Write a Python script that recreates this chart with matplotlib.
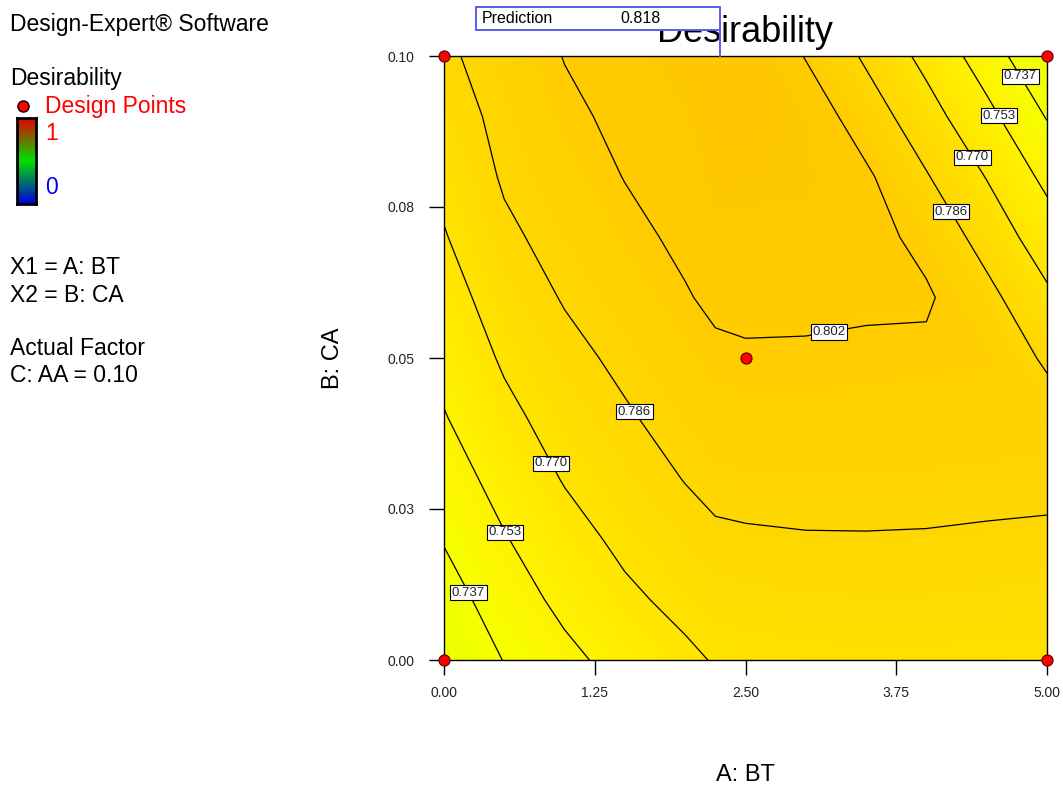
import numpy as np
import matplotlib
matplotlib.use("Agg")
import matplotlib.pyplot as plt
from matplotlib.colors import LinearSegmentedColormap
from matplotlib.patches import Rectangle
from matplotlib.lines import Line2D

plt.rcParams['font.family'] = ['Liberation Sans', 'DejaVu Sans']

# ---- factor grid: A: BT (columns) and B: CA (rows) ----
bt_values = [0.0, 0.5, 1.0, 1.5, 2.0, 2.25, 2.5, 3.0, 3.5, 4.0, 4.5, 5.0]
ca_values = [0.00, 0.01, 0.02, 0.03, 0.04, 0.05, 0.06, 0.07, 0.08, 0.09, 0.10]

# desirability, one row per CA value (bottom to top), one column per BT value
desirability = [
    [0.7230, 0.7375, 0.7490, 0.7587, 0.7670, 0.7710, 0.7720, 0.7732, 0.7738, 0.7739, 0.7732, 0.7728],
    [0.7300, 0.7450, 0.7570, 0.7670, 0.7742, 0.7776, 0.7784, 0.7794, 0.7798, 0.7797, 0.7790, 0.7786],
    [0.7380, 0.7520, 0.7640, 0.7735, 0.7806, 0.7838, 0.7845, 0.7852, 0.7853, 0.7851, 0.7845, 0.7840],
    [0.7450, 0.7590, 0.7710, 0.7790, 0.7865, 0.7896, 0.7902, 0.7906, 0.7905, 0.7902, 0.7895, 0.7890],
    [0.7520, 0.7660, 0.7765, 0.7844, 0.7913, 0.7951, 0.7955, 0.7957, 0.7954, 0.7949, 0.7943, 0.7937],
    [0.7580, 0.7720, 0.7820, 0.7890, 0.7962, 0.7995, 0.8005, 0.8004, 0.7999, 0.7990, 0.7986, 0.7834],
    [0.7630, 0.7780, 0.7870, 0.7937, 0.8010, 0.8045, 0.8051, 0.8048, 0.8038, 0.8040, 0.7905, 0.7729],
    [0.7690, 0.7833, 0.7910, 0.7984, 0.8047, 0.8093, 0.8093, 0.8088, 0.8077, 0.7975, 0.7800, 0.7613],
    [0.7740, 0.7876, 0.7950, 0.8024, 0.8076, 0.8133, 0.8132, 0.8124, 0.8045, 0.7871, 0.7694, 0.7490],
    [0.7790, 0.7900, 0.7990, 0.8053, 0.8108, 0.8163, 0.8166, 0.8113, 0.7941, 0.7765, 0.7574, 0.7361],
    [0.7835, 0.7925, 0.8025, 0.8085, 0.8145, 0.8180, 0.8180, 0.8012, 0.7837, 0.7655, 0.7449, 0.7227],
]

contour_levels = [0.737, 0.753, 0.770, 0.786, 0.802]
label_spots = [(4.76, 0.0964), (4.64, 0.0906), (4.43, 0.0838), (4.25, 0.0748),
               (3.18, 0.0560), (1.60, 0.0414), (0.88, 0.0325), (0.51, 0.0212),
               (0.22, 0.0113)]

design_bt = [0.0, 0.0, 5.0, 5.0, 2.5]
design_ca = [0.0, 0.10, 0.0, 0.10, 0.05]

x_ticks = [0.0, 1.25, 2.5, 3.75, 5.0]
x_tick_labels = ["0.00", "1.25", "2.50", "3.75", "5.00"]
y_ticks = [0.0, 0.025, 0.05, 0.075, 0.10]
y_tick_labels = ["0.00", "0.03", "0.05", "0.08", "0.10"]

prediction_value = 0.818
prediction_bt = 2.29
prediction_ca = 0.10

# ---- figure ----
W, H = 1063, 786
fig = plt.figure(figsize=(W / 100, H / 100), dpi=100)
ax = fig.add_axes([444 / W, 1 - 660 / H, 603 / W, 604 / H])

fill_cmap = LinearSegmentedColormap.from_list(
    "desire_fill",
    [(0.00, "#e8ff00"), (0.17, "#f6ff00"), (0.33, "#fff200"), (0.50, "#ffe400"),
     (0.66, "#ffd700"), (0.82, "#ffcc00"), (1.00, "#fec500")])

X, Y = np.meshgrid(bt_values, ca_values)
Z = np.array(desirability)
ax.contourf(X, Y, Z, levels=np.linspace(0.715, 0.825, 120), cmap=fill_cmap,
            vmin=0.72, vmax=0.82, antialiased=False)
cs = ax.contour(X, Y, Z, levels=contour_levels, colors="black", linewidths=0.9)
labels = ax.clabel(cs, contour_levels, manual=label_spots, inline=False,
                   fmt="%.3f", fontsize=9.5, colors="#222222")
for t in labels:
    t.set_rotation(0)
    t.set_bbox(dict(boxstyle="square,pad=0.12", fc="white", ec="black", lw=0.8))
    t.set_zorder(6)

ax.scatter(design_bt, design_ca, s=64, c="red", edgecolors="#550000",
           linewidths=0.8, clip_on=False, zorder=12)

ax.set_xlim(0, 5)
ax.set_ylim(0, 0.10)
ax.set_xticks(x_ticks)
ax.set_xticklabels(x_tick_labels)
ax.set_yticks(y_ticks)
ax.set_yticklabels(y_tick_labels)
ax.tick_params(direction="out", length=11, width=1, labelsize=10,
               labelcolor="#222222")
ax.tick_params(axis="x", pad=8)
ax.tick_params(axis="y", pad=10)
for s in ax.spines.values():
    s.set_linewidth(1)
    s.set_color("black")

ax.set_xlabel("A: BT", fontsize=17)
ax.xaxis.set_label_coords(0.5, (660 - 775) / 604)
ax.xaxis.label.set_va("center")
ax.set_ylabel("B: CA", fontsize=17)
ax.yaxis.set_label_coords((333 - 444) / 603, 0.5)
ax.yaxis.label.set_va("center")

ax.set_title("Desirability", fontsize=26, y=(660 - 33) / 604, va="center", pad=0)

# prediction flag
px_per_x = 603 / 5.0
px_per_y = 604 / 0.10
box_left = prediction_bt - (720 - 476) / px_per_x
box_bottom = prediction_ca + (56 - 30) / px_per_y
box_h = (30 - 7) / px_per_y
ax.add_patch(Rectangle((box_left, box_bottom), prediction_bt - box_left, box_h,
                       fc="white", ec="#5b5bf0", lw=1.4, clip_on=False, zorder=10))
ax.plot([prediction_bt, prediction_bt], [prediction_ca, box_bottom],
        color="#5b5bf0", lw=1.4, clip_on=False, zorder=10)
ax.text(box_left + 6 / px_per_x, box_bottom + box_h / 2, "Prediction",
        fontsize=11.5, va="center", ha="left", zorder=11)
ax.text(box_left + 144 / px_per_x, box_bottom + box_h / 2, f"{prediction_value:.3f}",
        fontsize=11.5, va="center", ha="left", zorder=11)

# ---- side panel ----
def ftext(x, y, s, **kw):
    fig.text(x / W, 1 - y / H, s, va="center", ha="left", **kw)

side_size = 16.5
ftext(10, 25, "Design-Expert® Software", fontsize=side_size)
ftext(10, 79, "Desirability", fontsize=side_size)
fig.add_artist(Line2D([23 / W], [1 - 106 / H], marker="o", color="red",
                      markeredgecolor="black", markersize=8, transform=fig.transFigure))
ftext(45, 107, "Design Points", fontsize=side_size, color="red")

cax = fig.add_axes([17 / W, 1 - 204 / H, 19 / W, 86 / H])
bar_cmap = LinearSegmentedColormap.from_list("legend_bar", ["#0000e0", "#00e000", "#e00000"])
cax.imshow(np.linspace(1, 0, 100).reshape(-1, 1), aspect="auto", cmap=bar_cmap,
           extent=[0, 1, 0, 1])
cax.set_xticks([])
cax.set_yticks([])
for s in cax.spines.values():
    s.set_linewidth(2)
    s.set_color("black")
ftext(45, 133, "1", fontsize=side_size, color="red")
ftext(45, 188, "0", fontsize=side_size, color="blue")

ftext(10, 268, "X1 = A: BT", fontsize=side_size)
ftext(10, 295, "X2 = B: CA", fontsize=side_size)
ftext(10, 348, "Actual Factor", fontsize=side_size)
ftext(10, 375, "C: AA = 0.10", fontsize=side_size)

fig.savefig("out.png", dpi=100)
